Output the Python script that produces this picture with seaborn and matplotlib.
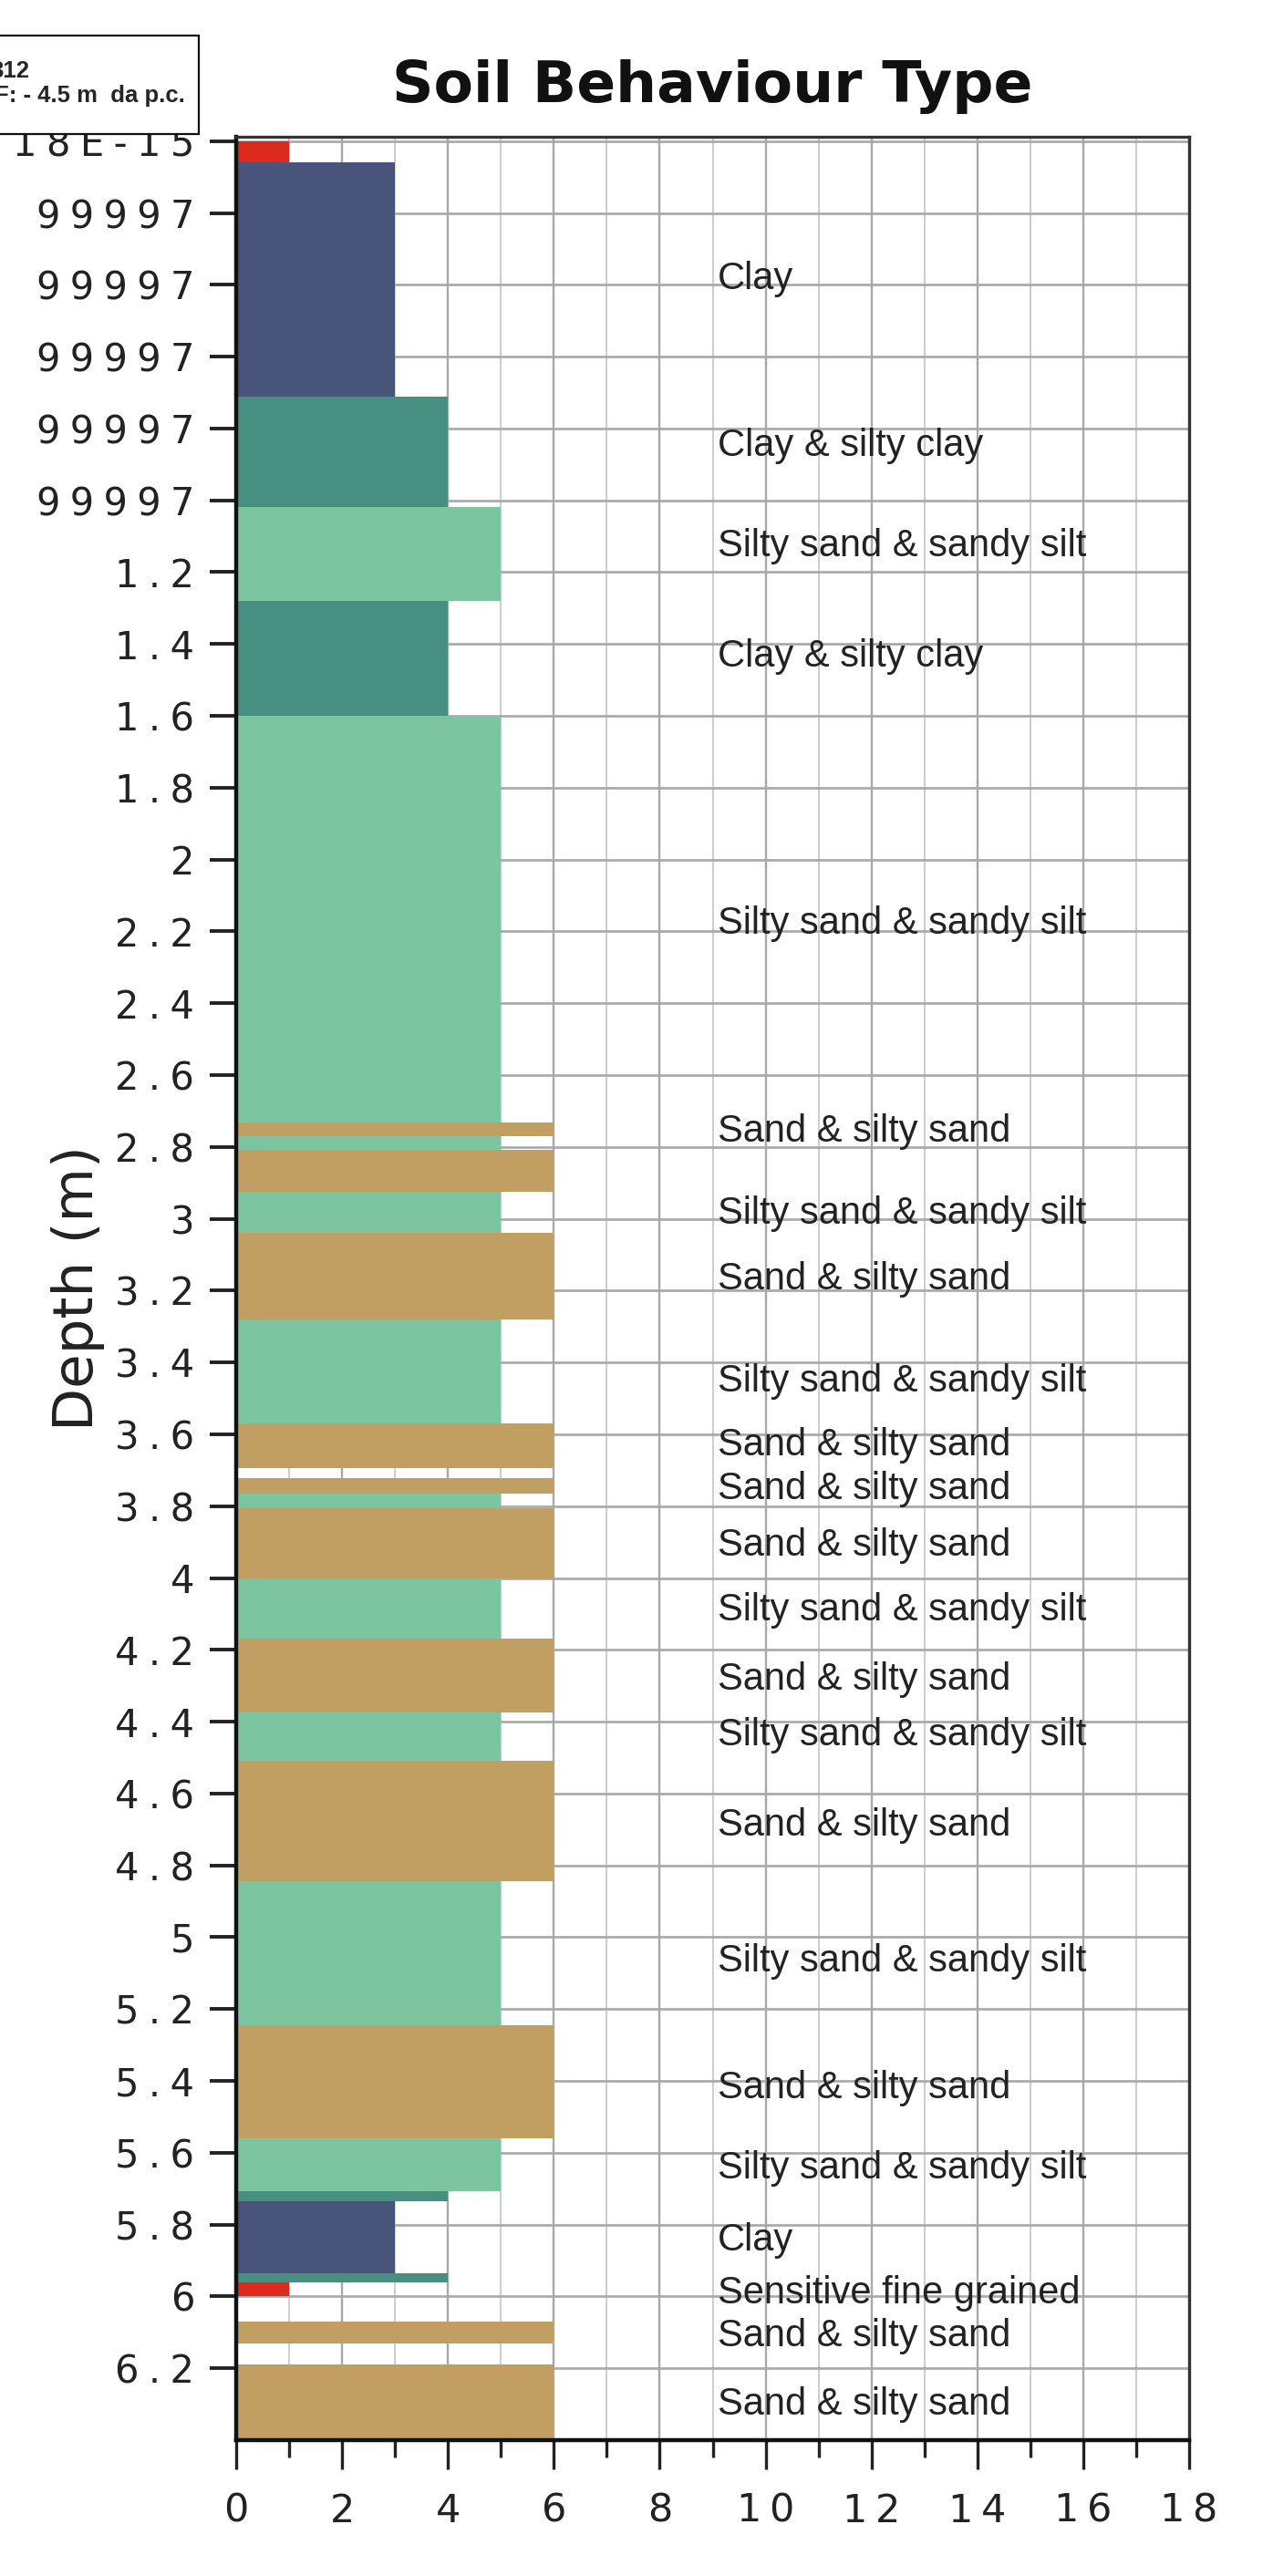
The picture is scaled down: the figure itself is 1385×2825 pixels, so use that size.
import matplotlib
matplotlib.use("Agg")
import matplotlib.pyplot as plt
from matplotlib.patches import Rectangle
from matplotlib.ticker import MultipleLocator, FixedLocator
import pandas as pd
import seaborn as sns

# Soil layers: depth (m) of top / bottom and SBT zone
layer_top = [0.000, 0.058, 0.712, 1.018, 1.280, 1.600, 2.733, 2.771, 2.809, 2.925,
             3.040, 3.280, 3.569, 3.722, 3.764, 3.805, 4.000, 4.168, 4.375, 4.510,
             4.845, 5.245, 5.560, 5.707, 5.735, 5.935, 5.962, 6.070, 6.190]
layer_bottom = [0.058, 0.712, 1.018, 1.280, 1.600, 2.733, 2.771, 2.809, 2.925, 3.040,
                3.280, 3.569, 3.693, 3.764, 3.805, 4.000, 4.168, 4.375, 4.510, 4.845,
                5.245, 5.560, 5.707, 5.735, 5.935, 5.962, 6.000, 6.130, 6.400]
layer_zone = [1, 3, 4, 5, 4, 5, 6, 5, 6, 5,
              6, 5, 6, 6, 5, 6, 5, 6, 5, 6,
              5, 6, 5, 4, 3, 4, 1, 6, 6]

zone_colors = {1: "#dc2a1f", 3: "#48547a", 4: "#468f81", 5: "#7cc5a0", 6: "#c19e62"}

# labels written next to the column
label_depth = [0.384, 0.849, 1.128, 1.434, 2.178, 2.758, 2.986, 3.169, 3.452, 3.630,
               3.753, 3.909, 4.091, 4.283, 4.438, 4.689, 5.068, 5.420, 5.644, 5.845,
               5.991, 6.110, 6.301]
label_text = ["Clay", "Clay & silty clay", "Silty sand & sandy silt", "Clay & silty clay",
              "Silty sand & sandy silt", "Sand & silty sand", "Silty sand & sandy silt",
              "Sand & silty sand", "Silty sand & sandy silt", "Sand & silty sand",
              "Sand & silty sand", "Sand & silty sand", "Silty sand & sandy silt",
              "Sand & silty sand", "Silty sand & sandy silt", "Sand & silty sand",
              "Silty sand & sandy silt", "Sand & silty sand", "Silty sand & sandy silt",
              "Clay", "Sensitive fine grained", "Sand & silty sand", "Sand & silty sand"]

depth_ticks = [0.0, 0.2, 0.4, 0.6, 0.8, 1.0, 1.2, 1.4, 1.6, 1.8, 2.0, 2.2, 2.4, 2.6, 2.8, 3.0,
               3.2, 3.4, 3.6, 3.8, 4.0, 4.2, 4.4, 4.6, 4.8, 5.0, 5.2, 5.4, 5.6, 5.8, 6.0, 6.2]
depth_tick_labels = ["18E-15", "99997", "99997", "99997", "99997", "99997", "1.2", "1.4",
                     "1.6", "1.8", "2", "2.2", "2.4", "2.6", "2.8", "3", "3.2", "3.4", "3.6",
                     "3.8", "4", "4.2", "4.4", "4.6", "4.8", "5", "5.2", "5.4", "5.6", "5.8",
                     "6", "6.2"]
x_ticks = [0, 2, 4, 6, 8, 10, 12, 14, 16, 18]

df = pd.DataFrame({"top": layer_top, "bottom": layer_bottom, "zone": layer_zone})
df["thick"] = df["bottom"] - df["top"]


def spaced(s, gap="\u2005"):
    # the original labels are drawn letter-spaced
    return gap.join(s)


sns.set_style("white")
plt.rcParams["font.family"] = ["DejaVu Sans"]

W, H = 1385, 2825
fig = plt.figure(figsize=(W / 100, H / 100), dpi=100)
ax_l, ax_r, ax_t, ax_b = 259, 1304, 150, 2676
ax = fig.add_axes([ax_l / W, 1 - ax_b / H, (ax_r - ax_l) / W, (ax_b - ax_t) / H])

ax.barh(df["top"], df["zone"], height=df["thick"], align="edge",
        color=df["zone"].map(zone_colors), linewidth=0, zorder=2)

ax.set_xlim(0, 18)
ax.set_ylim(6.4, -0.012)

ax.set_axisbelow(True)
ax.xaxis.set_major_locator(FixedLocator(x_ticks))
ax.xaxis.set_minor_locator(MultipleLocator(1))
ax.set_xticklabels([spaced(str(v), "\u2009") for v in x_ticks])
ax.yaxis.set_major_locator(FixedLocator(depth_ticks))
ax.set_yticklabels([spaced(s) for s in depth_tick_labels])

ax.grid(axis="y", which="major", color="#a8a8a8", linewidth=1.9)
ax.grid(axis="x", which="major", color="#a8a8a8", linewidth=1.7)
ax.grid(axis="x", which="minor", color="#cdcdcd", linewidth=1.4)

ax.tick_params(axis="y", left=True, length=21, width=2.8, pad=12, labelsize=30,
               color="#222222", labelcolor="#222222")
ax.tick_params(axis="x", which="major", bottom=True, length=23, width=2.4, pad=18,
               labelsize=31, color="#222222", labelcolor="#222222")
ax.tick_params(axis="x", which="minor", bottom=True, length=14, width=2.4, color="#222222")

for side in ["left", "bottom"]:
    ax.spines[side].set_color("#111111")
    ax.spines[side].set_linewidth(3.2)
for side in ["top", "right"]:
    ax.spines[side].set_color("#333333")
    ax.spines[side].set_linewidth(2.4)

ax.set_ylabel("Depth (m)", fontsize=44, color="#222222")
ax.yaxis.set_label_coords(-0.138, 0.5)

for d, t in zip(label_depth, label_text):
    ax.text(9.1, d, t, ha="left", va="center", fontsize=30, color="#222222",
            family=["Liberation Sans", "DejaVu Sans"], zorder=3)

fig.text((ax_l + ax_r) / 2 / W, 1 - 112 / H, "Soil Behaviour Type", ha="center",
         va="baseline", fontsize=45.5, fontweight="bold", color="#111111")

# info box in the top-left corner (cut by the image border)
box = Rectangle((-10 / W, 1 - 147 / H), 228 / W, 108 / H, transform=fig.transFigure,
                facecolor="white", edgecolor="#111111", linewidth=1.6, zorder=5)
fig.add_artist(box)
fig.text(32 / W, 1 - 85 / H, "312", ha="right", va="baseline", fontsize=18.5,
         fontweight="bold", family=["Liberation Sans", "DejaVu Sans"], zorder=6)
fig.text(203 / W, 1 - 112 / H, "F: - 4.5 m  da p.c.", ha="right", va="baseline",
         fontsize=18.5, fontweight="bold", family=["Liberation Sans", "DejaVu Sans"], zorder=6)

fig.savefig("out.png", dpi=100)
